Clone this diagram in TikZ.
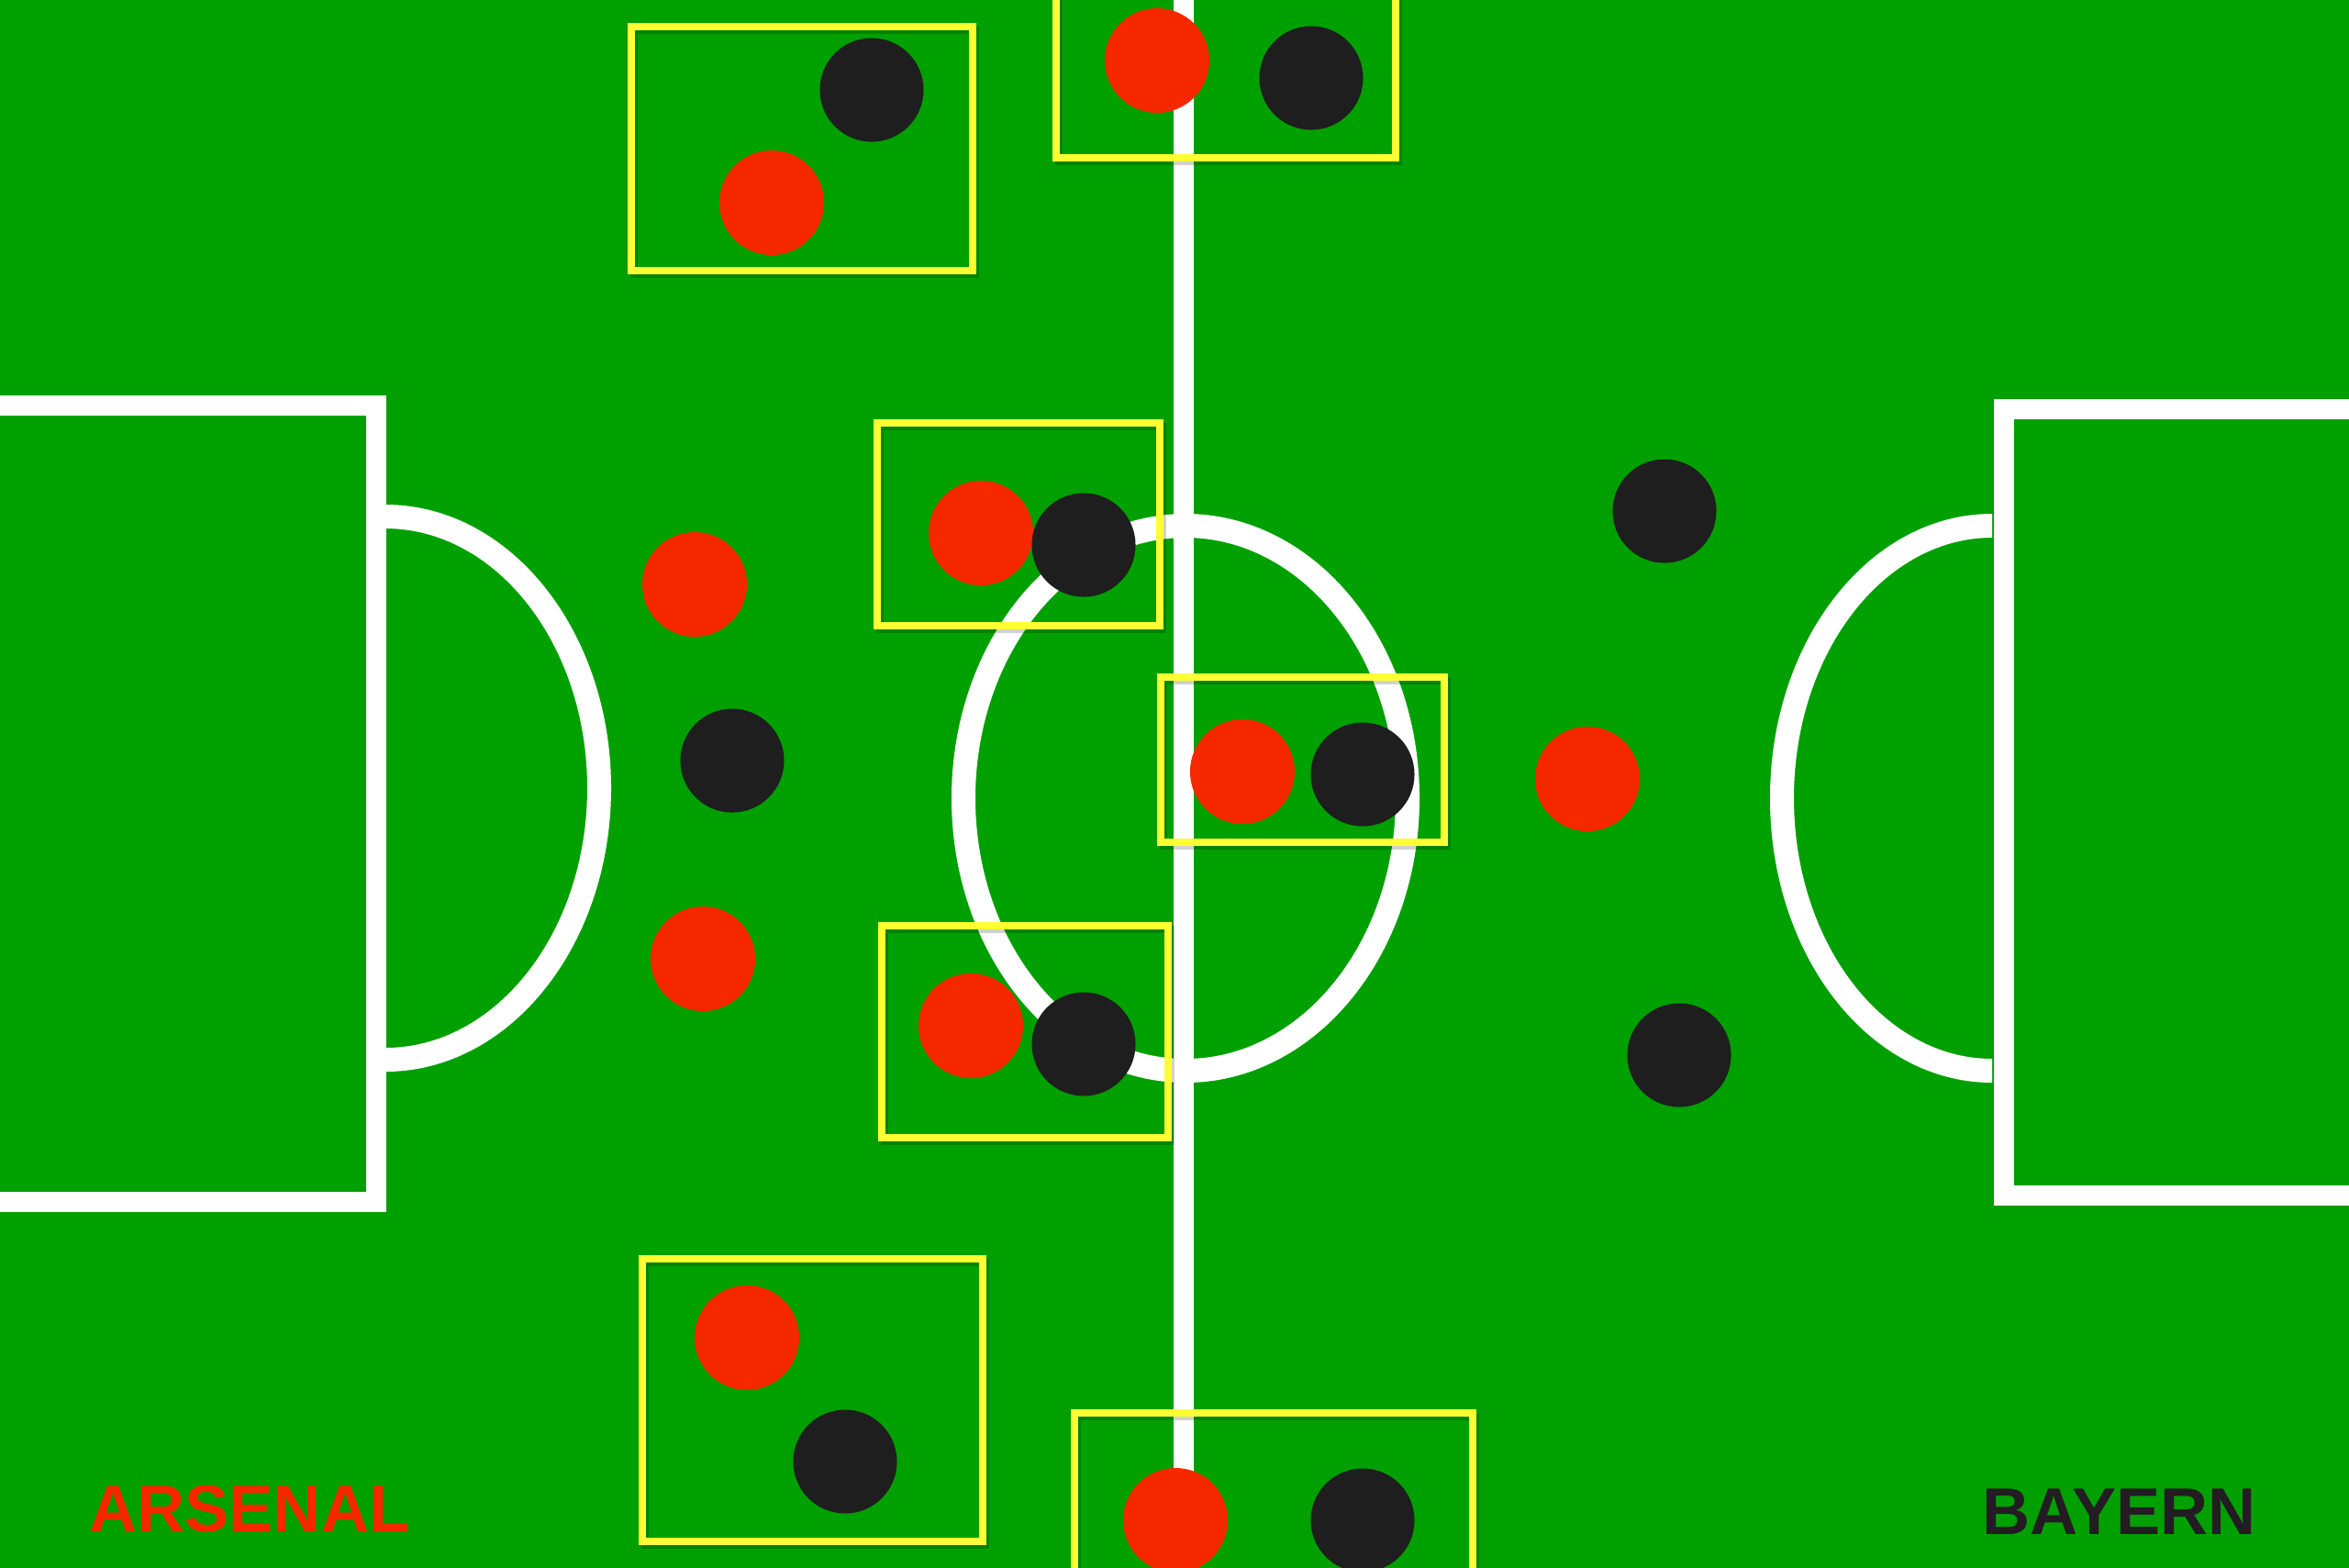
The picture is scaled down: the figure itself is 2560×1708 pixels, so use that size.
\documentclass[tikz,border=0pt]{standalone}
\usepackage{fontspec}
\setmainfont{Liberation Sans}
\definecolor{pitch}{RGB}{0,160,0}
\definecolor{ars}{RGB}{245,40,0}
\definecolor{bay}{RGB}{30,30,30}
\definecolor{duel}{RGB}{255,255,51}
\definecolor{baytext}{RGB}{35,28,35}
\begin{document}
\begin{tikzpicture}[x=0.01cm,y=-0.01cm,
  pitchline/.style={draw=white,line width=6.3pt},
  arcline/.style={draw=white,line width=7.4pt},
  duelbox/.style={draw=duel,line width=2.4pt},
  duelshadow/.style={draw=black,opacity=0.18,line width=2.4pt},
  redplayer/.style={circle,fill=ars,minimum size=1.14cm,inner sep=0pt},
  blackplayer/.style={circle,fill=bay,minimum size=1.13cm,inner sep=0pt},
  teamlabel/.style={font=\bfseries\fontsize{20.5}{24}\selectfont,inner sep=0pt,anchor=base west}]
\useasboundingbox (0,0) rectangle (2560,1708);
\fill[pitch] (-30,-30) rectangle (2590,1740);
\begin{scope}
\clip (-5,-5) rectangle (2565,1715);
% penalty areas
\draw[pitchline] (-40,442) rectangle (410,1310);
\draw[pitchline] (2184,446) rectangle (2620,1303);
% arcs
\begin{scope}
\clip (420,0) rectangle (1000,1708);
\draw[arcline] (420,859) ellipse[x radius=233,y radius=296];
\end{scope}
\begin{scope}
\clip (1600,0) rectangle (2171,1708);
\draw[arcline] (2171,870) ellipse[x radius=229,y radius=297];
\end{scope}
% centre circle and halfway line
\draw[arcline] (1292,870) ellipse[x radius=242,y radius=297];
\draw[pitchline] (1290,-20) -- (1290,1730);
% duel boxes: shadows
\foreach \a/\b/\c/\d in {688/29/1060/295, 1151/-10/1521/172, 956/461/1264/682, 1265/738/1574/918, 961/1009/1273/1240, 700/1372/1071/1680, 1171/1540/1605/1740}
  \draw[duelshadow] (\a+3,\b+4) rectangle (\c+3,\d+4);
\draw[duelbox] (688,29) rectangle (1060,295);
\draw[duelbox] (1151,-10) rectangle (1521,172);
\draw[duelbox] (956,461) rectangle (1264,682);
\draw[duelbox] (1265,738) rectangle (1574,918);
\draw[duelbox] (961,1009) rectangle (1273,1240);
\draw[duelbox] (700,1372) rectangle (1071,1680);
\draw[duelbox] (1171,1540) rectangle (1605,1740);
% Arsenal players
\node[redplayer] (r1) at (841,221) {};
\node[redplayer] (r2) at (1261,66) {};
\node[redplayer] (r3) at (1069,581) {};
\node[redplayer] (r4) at (1354,841) {};
\node[redplayer] (r5) at (1058,1118) {};
\node[redplayer] (r6) at (814,1458) {};
\node[redplayer] (r7) at (1281,1657) {};
\node[redplayer] (r8) at (757,637) {};
\node[redplayer] (r9) at (766,1045) {};
\node[redplayer] (r10) at (1730,849) {};
% Bayern players
\node[blackplayer] (b1) at (950,98) {};
\node[blackplayer] (b2) at (1429,85) {};
\node[blackplayer] (b3) at (1181,594) {};
\node[blackplayer] (b4) at (1485,844) {};
\node[blackplayer] (b5) at (1181,1138) {};
\node[blackplayer] (b6) at (921,1593) {};
\node[blackplayer] (b7) at (1485,1657) {};
\node[blackplayer] (b8) at (798,829) {};
\node[blackplayer] (b9) at (1814,557) {};
\node[blackplayer] (b10) at (1830,1150) {};
\end{scope}
% team labels
\node[teamlabel,text=ars] (arsenal) at (97,1669) {ARSENAL};
\node[teamlabel,text=baytext] (bayern) at (2160,1672) {BAYERN};
\end{tikzpicture}
\end{document}
